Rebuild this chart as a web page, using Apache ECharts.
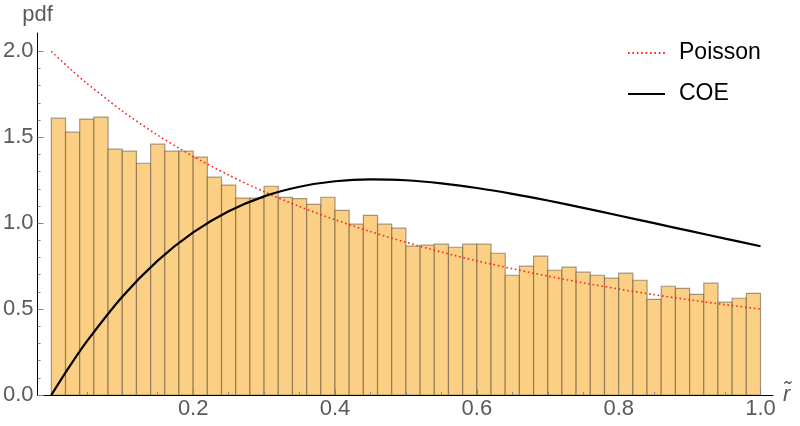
<!DOCTYPE html>
<html>
<head>
<meta charset="utf-8">
<script src="https://cdn.jsdelivr.net/npm/echarts@6/dist/echarts.min.js"></script>
<style>html,body{margin:0;padding:0;background:#fff}#c{width:800px;height:426px}</style>
</head>
<body>
<div id="c"></div>
<script>
// Histogram (50 bins of width 0.02 on [0,1]), density values
var binWidth = 0.02;
var density = [
  1.611, 1.530, 1.606, 1.617, 1.431, 1.419, 1.349, 1.460, 1.419, 1.419,
  1.384, 1.268, 1.221, 1.146, 1.146, 1.215, 1.150, 1.143, 1.110, 1.151,
  1.075, 0.994, 1.046, 0.994, 0.971, 0.866, 0.872, 0.878, 0.860, 0.878,
  0.878, 0.825, 0.697, 0.750, 0.808, 0.726, 0.744, 0.715, 0.697, 0.680,
  0.709, 0.668, 0.557, 0.633, 0.621, 0.586, 0.651, 0.540, 0.563, 0.592
];
// Curves, values
var curveR = [0, 0.025, 0.05, 0.1, 0.15, 0.2, 0.25, 0.3, 0.35, 0.4, 0.45, 0.5, 0.55, 0.6, 0.65, 0.7, 0.75, 0.8, 0.85, 0.9, 0.95, 1.0];
var poisson = [2.000, 1.904, 1.814, 1.653, 1.512, 1.389, 1.280, 1.183, 1.097, 1.020, 0.951, 0.889, 0.832, 0.781, 0.735, 0.692, 0.653, 0.617, 0.584, 0.554, 0.526, 0.500];
var coe = [0.000, 0.162, 0.312, 0.572, 0.782, 0.946, 1.069, 1.156, 1.212, 1.244, 1.255, 1.250, 1.232, 1.205, 1.171, 1.132, 1.089, 1.045, 1.000, 0.955, 0.910, 0.866];
// Tick labels
var xTickLabels = [0.2, 0.4, 0.6, 0.8, 1.0];
var xMinorTicks = [0.05, 0.1, 0.15, 0.25, 0.3, 0.35, 0.45, 0.5, 0.55, 0.65, 0.7, 0.75, 0.85, 0.9, 0.95];
var yTickLabels = [0, 0.5, 1.0, 1.5, 2.0];
var yMinorTicks = [0.1, 0.2, 0.3, 0.4, 0.6, 0.7, 0.8, 0.9, 1.1, 1.2, 1.3, 1.4, 1.6, 1.7, 1.8, 1.9];

var FONT = "'Liberation Sans', Arial, sans-serif";
var histData = density.map(function (v, i) { return [i * binWidth, (i + 1) * binWidth, v]; });
function pairs(xs, ys) { return xs.map(function (x, i) { return [x, ys[i]]; }); }

var XMIN = -0.0194, XMAX = 1.0176, YMAX = 2.107;
var GREY = '#5a5a5a';

var chart = echarts.init(document.getElementById('c'), null, { renderer: 'canvas' });
chart.setOption({
  animation: false,
  backgroundColor: '#fff',
  grid: { left: 37, right: 27, top: 33, bottom: 31, containLabel: false },
  legend: {
    orient: 'vertical', left: 627, top: 41, padding: 0,
    itemWidth: 37, itemHeight: 14, itemGap: 17,
    itemStyle: { opacity: 0 },
    textStyle: { color: '#000', fontSize: 23, fontFamily: FONT, lineHeight: 24, padding: [0, 0, 0, 9] },
    data: ['Poisson', 'COE']
  },
  xAxis: [{
    type: 'value', min: XMIN, max: XMAX, z: 5,
    name: 'r\u0303', nameLocation: 'end', nameGap: 10,
    nameTextStyle: { color: GREY, fontSize: 22, fontStyle: 'italic', fontFamily: FONT, verticalAlign: 'middle' },
    axisLine: { show: true, onZero: false, lineStyle: { color: '#000', width: 1 } },
    axisTick: { show: true, inside: true, length: 6, customValues: xTickLabels, lineStyle: { color: '#888' } },
    axisLabel: { show: true, customValues: xTickLabels, margin: 3, formatter: function (v) { return v.toFixed(1); }, color: GREY, fontSize: 22, fontFamily: FONT },
    splitLine: { show: false }
  }, {
    type: 'value', min: XMIN, max: XMAX, position: 'bottom', offset: 0, z: 5,
    axisLine: { show: false, onZero: false },
    axisTick: { show: true, inside: true, length: 3, customValues: xMinorTicks, lineStyle: { color: '#888' } },
    axisLabel: { show: false },
    splitLine: { show: false }
  }],
  yAxis: [{
    type: 'value', min: 0, max: YMAX, z: 5,
    name: 'pdf', nameLocation: 'end', nameGap: 7,
    nameTextStyle: { color: GREY, fontSize: 22, fontFamily: FONT },
    axisLine: { show: true, onZero: false, lineStyle: { color: '#000', width: 1 } },
    axisTick: { show: true, inside: true, length: 6, customValues: yTickLabels, lineStyle: { color: '#888' } },
    axisLabel: { show: true, customValues: yTickLabels, margin: 4, formatter: function (v) { return v.toFixed(1); }, color: GREY, fontSize: 22, fontFamily: FONT },
    splitLine: { show: false }
  }, {
    type: 'value', min: 0, max: YMAX, position: 'left', offset: 0, z: 5,
    axisLine: { show: false, onZero: false },
    axisTick: { show: true, inside: true, length: 3, customValues: yMinorTicks, lineStyle: { color: '#888' } },
    axisLabel: { show: false },
    splitLine: { show: false }
  }],
  series: [{
    type: 'custom', name: 'hist', xAxisIndex: 0, yAxisIndex: 0,
    data: histData, encode: { x: [0, 1], y: 2 },
    renderItem: function (params, api) {
      var p0 = api.coord([api.value(0), api.value(2)]);
      var p1 = api.coord([api.value(1), 0]);
      return {
        type: 'rect',
        shape: { x: p0[0], y: p0[1], width: p1[0] - p0[0], height: p1[1] - p0[1] },
        style: { fill: '#fcd084', stroke: 'rgba(95,80,60,0.55)', lineWidth: 1.2 }
      };
    },
    z: 1
  }, {
    type: 'line', name: 'Poisson', xAxisIndex: 0, yAxisIndex: 0,
    data: pairs(curveR, poisson), smooth: 0.3, symbol: 'none', showSymbol: false,
    lineStyle: { color: '#ff2020', width: 1.6, type: [1.6, 2.8] },
    itemStyle: { color: '#ff2020' },
    z: 3
  }, {
    type: 'line', name: 'COE', xAxisIndex: 0, yAxisIndex: 0,
    data: pairs(curveR, coe), smooth: 0.3, symbol: 'none', showSymbol: false,
    lineStyle: { color: '#000', width: 2.2 },
    itemStyle: { color: '#000' },
    z: 4
  }]
});
</script>
</body>
</html>
